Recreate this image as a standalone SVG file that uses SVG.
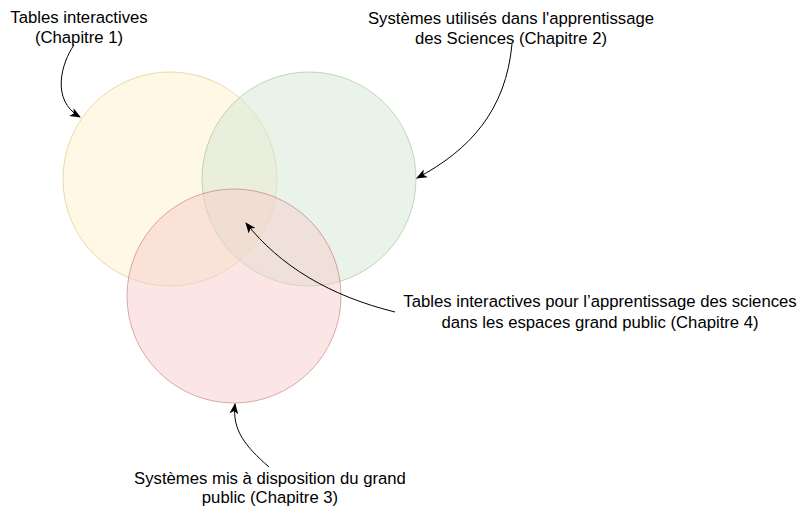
<svg xmlns="http://www.w3.org/2000/svg" width="800" height="506" viewBox="0 0 800 506">
  <style>
    .set { opacity: 0.5; stroke-width: 1; }
    .label { font-family: "Liberation Sans", Arial, Helvetica, sans-serif; font-size: 16.7px; fill: #000; text-anchor: middle; }
    .link { fill: none; stroke: #000; stroke-width: 1; marker-end: url(#arrow); }
  </style>
  <defs>
    <marker id="arrow" viewBox="0 0 10 8" refX="9" refY="4" markerWidth="11" markerHeight="9" markerUnits="userSpaceOnUse" orient="auto">
      <path d="M0,0 L10,4 L0,8 L2.5,4 Z" fill="#000"/>
    </marker>
  </defs>
  <rect width="800" height="506" fill="#fff"/>

  <!-- Sets -->
  <g id="set-tables">
    <circle class="set" cx="170" cy="179" r="107" fill="#fff2cc" stroke="#d6b656"/>
  </g>
  <g id="set-sciences">
    <circle class="set" cx="309" cy="179" r="107" fill="#d5e8d4" stroke="#82b366"/>
  </g>
  <g id="set-public">
    <circle class="set" cx="234" cy="296" r="107" fill="#f8cecc" stroke="#b85450"/>
  </g>

  <!-- Labels -->
  <g id="label-ch1">
    <text class="label" x="79" y="23">Tables interactives</text>
    <text class="label" x="79" y="43">(Chapitre 1)</text>
  </g>
  <g id="label-ch2">
    <text class="label" x="511" y="24">Systèmes utilisés dans l'apprentissage</text>
    <text class="label" x="511" y="44">des Sciences (Chapitre 2)</text>
  </g>
  <g id="label-ch4">
    <text class="label" x="600" y="307">Tables interactives pour l’apprentissage des sciences</text>
    <text class="label" x="600" y="328">dans les espaces grand public (Chapitre 4)</text>
  </g>
  <g id="label-ch3">
    <text class="label" x="270" y="484">Systèmes mis à disposition du grand</text>
    <text class="label" x="270" y="503">public (Chapitre 3)</text>
  </g>

  <!-- Connectors -->
  <g id="connectors">
    <path class="link" d="M74,45 C62,62 50,100 80,117"/>
    <path class="link" d="M512,44 C506,110 470,150 417,178"/>
    <path class="link" d="M395,312 C330,296 280,266 246,223"/>
    <path class="link" d="M269,467 C245,446 232,430 235,404"/>
  </g>
</svg>
